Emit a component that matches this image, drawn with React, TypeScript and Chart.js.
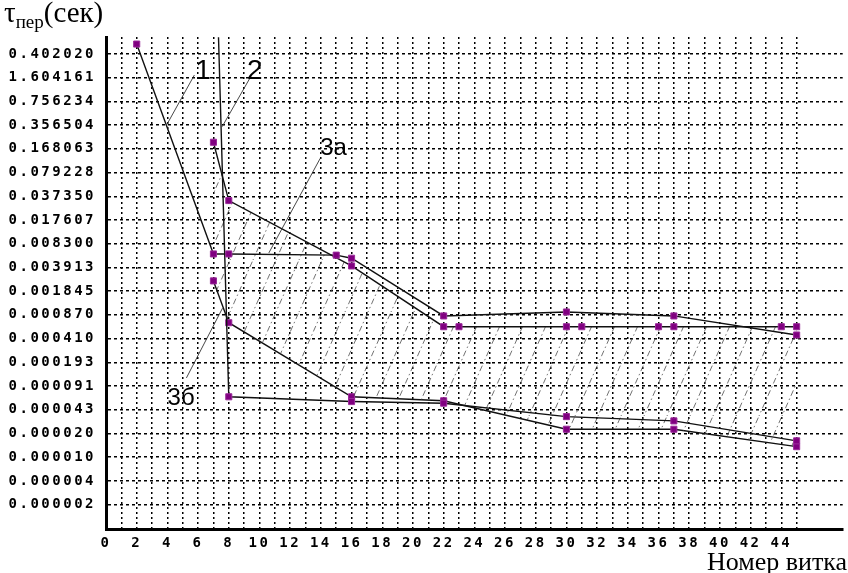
import React, { useEffect, useRef } from 'react';
import { Chart, registerables } from 'chart.js';

Chart.register(...registerables);

// Y tick labels (top to bottom) and the values they sit at (log scale, ratio ~2.1213)
const yTickLabels = ['0.402020', '1.604161', '0.756234', '0.356504', '0.168063', '0.079228', '0.037350', '0.017607', '0.008300', '0.003913', '0.001845', '0.000870', '0.000410', '0.000193', '0.000091', '0.000043', '0.000020', '0.000010', '0.000004', '0.000002'];
const yTickValues = [3.40202, 1.604161, 0.756234, 0.356504, 0.168063, 0.079228, 0.03735, 0.017607, 0.0083, 0.003913, 0.001845, 0.00087, 0.00041, 0.000193, 0.000091, 0.0000429, 0.0000202, 0.00000953, 0.00000449, 0.00000212];
const yMin = 0.000000977;
const yMax = 5.83;

const xTickLabels = [0, 2, 4, 6, 8, 10, 12, 14, 16, 18, 20, 22, 24, 26, 28, 30, 32, 34, 36, 38, 40, 42, 44];
const xMin = 0;
const xMax = 48;
const xGridLast = 45;

// Series 1
const s1X = [2, 7, 8, 15, 16, 22, 30, 37, 45];
const s1Y = [4.66, 0.006, 0.006, 0.00577, 0.00524, 0.00084, 0.000952, 0.00084, 0.000459];
// Series 2 (enters from the top of the plot)
const s2X = [7.33, 8, 16, 22, 30, 37, 45];
const s2Y = [5.8, 0.0000647, 0.0000556, 0.0000528, 0.0000345, 0.0000301, 0.000016];
// Series 3а
const s3aX = [7, 8, 16, 22, 23, 30, 31, 36, 37, 44, 45];
const s3aY = [0.207, 0.0326, 0.0041, 0.000597, 0.000597, 0.000597, 0.000597, 0.000597, 0.000597, 0.000597, 0.000597];
// Series 3б
const s3bX = [7, 8, 16, 22, 30, 37, 45];
const s3bY = [0.00255, 0.000678, 0.0000647, 0.000057, 0.0000231, 0.0000231, 0.0000133];

// Curve labels with leader lines (data coordinates)
const curveLabels = ['1', '2', '3а', '3б'];
const curveLabelX = [6.32, 9.7, 13.96, 4.01];
const curveLabelY = [1.54, 1.54, 0.1384, 0.0000499];
const curveLabelAlign = ['center', 'center', 'left', 'left'];
const leaderFromX = [5.76, 9.43, 13.96, 5.24];
const leaderFromY = [1.748, 1.656, 0.1246, 0.0001177];
const leaderToX = [3.95, 7.57, 10.61, 7.59];
const leaderToY = [0.358, 0.3395, 0.00619, 0.001073];

const toPts = (xs: number[], ys: number[]) => xs.map((x, i) => ({ x, y: ys[i] }));

export default function App() {
  const ref = useRef<HTMLCanvasElement>(null);

  useEffect(() => {
    const canvas = ref.current!;
    const ctx = canvas.getContext('2d')!;

    // hatch pattern (dash-dot diagonal lines)
    const pc = document.createElement('canvas');
    const pw = 23, ph = 52;
    pc.width = pw;
    pc.height = ph;
    const g = pc.getContext('2d')!;
    g.strokeStyle = 'rgba(70,70,70,0.85)';
    g.lineWidth = 0.9;
    g.setLineDash([6, 3, 1.5, 3]);
    for (const dx of [-pw, 0, pw]) {
      g.beginPath();
      g.moveTo(dx - 2, ph + 2 * ph / pw);
      g.lineTo(dx + pw + 2, -2 * ph / pw);
      g.stroke();
    }
    const pattern = ctx.createPattern(pc, 'repeat')!;

    const purple = '#800080';
    const lineColor = '#111';
    const mk = (label: string, xs: number[], ys: number[], extra: any = {}) => ({
      label,
      data: toPts(xs, ys),
      borderColor: lineColor,
      borderWidth: 1.4,
      pointStyle: 'rect',
      pointRadius: 4.3,
      pointBackgroundColor: purple,
      pointBorderColor: '#9a2a9a',
      pointBorderWidth: 1,
      tension: 0,
      fill: false,
      ...extra,
    });

    const letterPlugin = {
      id: 'letterSpacing',
      beforeDraw(chart: any) {
        chart.ctx.letterSpacing = '2.5px';
      },
      beforeDatasetsDraw(chart: any) {
        chart.ctx.letterSpacing = '0px';
      },
      afterDraw(chart: any) {
        const c = chart.ctx;
        c.save();
        c.letterSpacing = '0px';
        const xs = chart.scales.x;
        const ys = chart.scales.y;
        // leader lines
        c.strokeStyle = '#333';
        c.lineWidth = 0.9;
        for (let i = 0; i < curveLabels.length; i++) {
          c.beginPath();
          c.moveTo(xs.getPixelForValue(leaderFromX[i]), ys.getPixelForValue(leaderFromY[i]));
          c.lineTo(xs.getPixelForValue(leaderToX[i]), ys.getPixelForValue(leaderToY[i]));
          c.stroke();
        }
        c.fillStyle = '#000';
        c.textBaseline = 'alphabetic';
        for (let i = 0; i < curveLabels.length; i++) {
          c.font = (i < 2 ? '28px' : '24px') + ' "Liberation Sans Narrow", "Liberation Sans", Arial, sans-serif';
          c.textAlign = curveLabelAlign[i];
          c.fillText(curveLabels[i], xs.getPixelForValue(curveLabelX[i]), ys.getPixelForValue(curveLabelY[i]));
        }
        // axis titles
        c.textAlign = 'left';
        c.font = '29px "Liberation Serif", "Times New Roman", serif';
        c.fillText('τ', 4, 22);
        const tw = c.measureText('τ').width;
        c.font = '19px "Liberation Serif", "Times New Roman", serif';
        c.fillText('пер', 4 + tw, 28);
        const sw = c.measureText('пер').width;
        c.font = '29px "Liberation Serif", "Times New Roman", serif';
        c.fillText('(сек)', 4 + tw + sw, 22);
        c.font = '26px "Liberation Serif", "Times New Roman", serif';
        c.fillText('Номер витка', 707, 570);
        c.restore();
      },
    };

    const chart = new Chart(canvas, {
      type: 'line',
      data: {
        datasets: [
          mk('1', s1X, s1Y),
          mk('2', s2X, s2Y, { pointRadius: s2X.map((_, i) => (i === 0 ? 0 : 4.3)) }),
          mk('3а', s3aX, s3aY, { fill: '+1', backgroundColor: pattern }),
          mk('3б', s3bX, s3bY),
        ],
      },
      options: {
        animation: false,
        responsive: false,
        devicePixelRatio: 1,
        layout: { padding: { top: 37, right: 0, left: 0, bottom: 0 } },
        plugins: { legend: { display: false }, tooltip: { enabled: false } },
        scales: {
          x: {
            type: 'linear',
            min: xMin,
            max: xMax,
            afterFit: (s: any) => {
              s.height = 44;
              s.paddingRight = 0;
              s.paddingLeft = 0;
            },
            ticks: {
              stepSize: 1,
              autoSkip: false,
              maxRotation: 0,
              padding: 6,
              color: '#000',
              font: { family: '"DejaVu Sans Mono", monospace', size: 14, weight: 'bold' },
              callback: (v: any) => (xTickLabels.includes(Number(v)) ? String(v) : ''),
            },
            grid: {
              color: (c: any) => (c.tick && c.tick.value > xGridLast ? 'rgba(0,0,0,0)' : '#000'),
              lineWidth: 1.5,
              drawTicks: false,
            },
            border: { display: true, color: '#000', width: 3, dash: [2, 3] },
          },
          y: {
            type: 'logarithmic',
            min: yMin,
            max: yMax,
            afterFit: (s: any) => {
              s.width = 106;
            },
            afterBuildTicks: (s: any) => {
              s.ticks = yTickValues.slice().reverse().map((v) => ({ value: v }));
            },
            ticks: {
              autoSkip: false,
              padding: 10,
              color: '#000',
              font: { family: '"DejaVu Sans Mono", monospace', size: 14, weight: 'bold' },
              callback: (v: any) => {
                const lv = Math.log(Number(v));
                for (let i = 0; i < yTickValues.length; i++) {
                  if (Math.abs(Math.log(yTickValues[i]) - lv) < 0.05) return yTickLabels[i];
                }
                return '';
              },
            },
            grid: { color: '#000', lineWidth: 1.5, drawTicks: false },
            border: { display: true, color: '#000', width: 3, dash: [3, 3] },
          },
        },
      },
      plugins: [letterPlugin],
    } as any);

    return () => chart.destroy();
  }, []);

  return (
    <div style={{ position: 'absolute', left: 0, top: 0, width: 848, height: 573, background: '#fff' }}>
      <canvas ref={ref} width={848} height={573} style={{ display: 'block', width: 848, height: 573 }} />
    </div>
  );
}
